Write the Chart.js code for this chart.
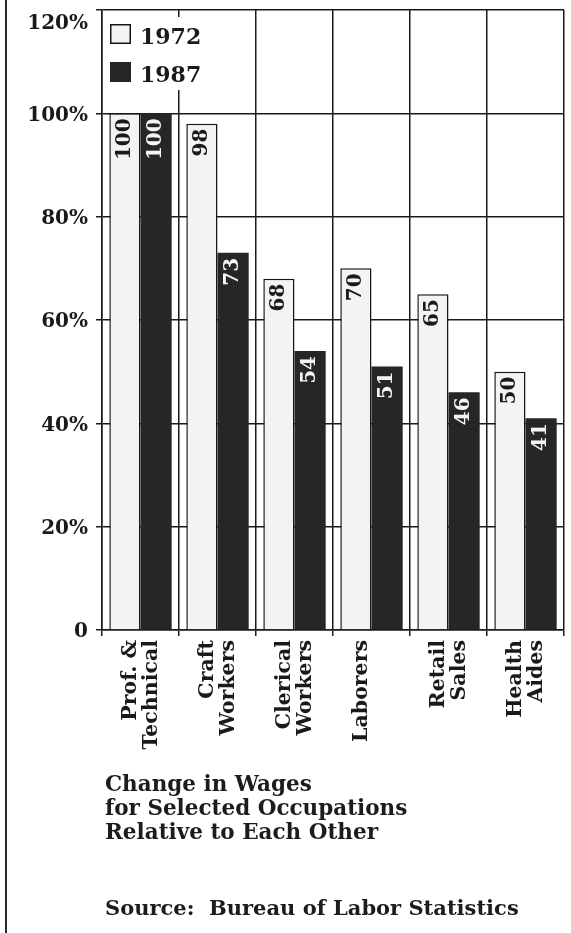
<!DOCTYPE html>
<html>
<head>
<meta charset="utf-8">
<title>Change in Wages for Selected Occupations</title>
<script src="https://cdn.jsdelivr.net/npm/chart.js@4.4.1/dist/chart.umd.min.js"></script>
<style>
  html, body { margin: 0; padding: 0; background: #fff; }
  #page { position: relative; width: 571px; height: 933px; overflow: hidden; background: #fff; }
  #frame { position: absolute; left: 5px; top: 0; width: 2px; height: 933px; background: #2a2a2a; }
  #chartBox { position: absolute; left: 0; top: 0; width: 571px; height: 933px; }
  .caption { position: absolute; left: 105px; font-family: "DejaVu Serif", serif; font-weight: bold; color: #1c1c1c; white-space: nowrap; }
  #title { top: 772px; font-size: 21.5px; line-height: 24px; }
  #source { top: 895px; font-size: 21px; }
</style>
</head>
<body>
<div id="page">
  <div id="chartBox"><canvas id="wagesChart"></canvas></div>
  <div id="frame"></div>
  <div id="title" class="caption">Change in Wages<br>for Selected Occupations<br>Relative to Each Other</div>
  <div id="source" class="caption">Source:&nbsp; Bureau of Labor Statistics</div>
</div>
<script>
// data
const occupations = [['Prof. &', 'Technical'], ['Craft', 'Workers'], ['Clerical', 'Workers'], 'Laborers', ['Retail', 'Sales'], ['Health', 'Aides']];
const wages1972 = [100, 98, 68, 70, 65, 50];
const wages1987 = [100, 73, 54, 51, 46, 41];
const yTickValues = [0, 20, 40, 60, 80, 100, 120];

const serif = '"DejaVu Serif", serif';
const ink = '#1a1a1a';

// inset legend, top left of the plot
const insetLegend = {
    id: 'insetLegend',
    afterDraw(chart) {
        const ctx = chart.ctx;
        const area = chart.chartArea;
        const x0 = area.left + 8;
        const y0 = area.top + 14;
        ctx.save();
        ctx.fillStyle = '#fff';
        ctx.fillRect(area.left + 1, area.top + 7, 102, 73);
        chart.data.datasets.forEach(function(ds, i) {
            const y = y0 + i * 38;
            ctx.fillStyle = ds.backgroundColor;
            ctx.fillRect(x0, y, 21, 20);
            if (ds.borderWidth) {
                ctx.strokeStyle = ds.borderColor;
                ctx.lineWidth = 1.5;
                ctx.strokeRect(x0 + 0.75, y + 0.75, 19.5, 18.5);
            }
            ctx.fillStyle = ink;
            ctx.font = 'bold 22px ' + serif;
            ctx.textAlign = 'left';
            ctx.textBaseline = 'alphabetic';
            ctx.fillText(ds.label, x0 + 30, y + 20);
        });
        ctx.restore();
    }
};

// rotated value labels at the top of each bar
const valueLabels = {
    id: 'valueLabels',
    afterDatasetsDraw(chart) {
        const ctx = chart.ctx;
        ctx.save();
        ctx.font = 'bold 20px ' + serif;
        ctx.textAlign = 'right';
        ctx.textBaseline = 'middle';
        chart.data.datasets.forEach(function(ds, i) {
            chart.getDatasetMeta(i).data.forEach(function(bar, j) {
                ctx.save();
                ctx.translate(bar.x, bar.y + 5);
                ctx.rotate(-Math.PI / 2);
                ctx.fillStyle = ds.labelColor;
                ctx.fillText(String(ds.data[j]), 0, 0);
                ctx.restore();
            });
        });
        ctx.restore();
    }
};

const ctx = document.getElementById('wagesChart').getContext('2d');

new Chart(ctx, {
    type: 'bar',
    data: {
        labels: occupations,
        datasets: [{
            label: '1972',
            data: wages1972,
            backgroundColor: '#f3f3f3',
            borderColor: '#161616',
            borderWidth: 1.5,
            labelColor: ink
        }, {
            label: '1987',
            data: wages1987,
            backgroundColor: '#262626',
            borderColor: '#262626',
            borderWidth: 0,
            labelColor: '#f4f4f4'
        }]
    },
    options: {
        responsive: true,
        maintainAspectRatio: false,
        animation: false,
        devicePixelRatio: 1,
        layout: { padding: { left: 0, right: 7, top: 0, bottom: 0 } },
        datasets: {
            bar: { categoryPercentage: 0.81, barPercentage: 1.0 }
        },
        plugins: {
            legend: { display: false },
            tooltip: { enabled: false }
        },
        scales: {
            x: {
                grid: { offset: true, color: ink, lineWidth: 1.5, tickLength: 6 },
                border: { color: ink, width: 1.5 },
                ticks: {
                    autoSkip: false,
                    maxRotation: 90,
                    minRotation: 90,
                    padding: 4,
                    labelOffset: -10,
                    color: ink,
                    font: { family: serif, size: 20.5, weight: 'bold', lineHeight: 1.05 }
                },
                afterFit(scale) {
                    scale.height = 933 - 630;
                    scale.paddingLeft = 0;
                    scale.paddingRight = 0;
                }
            },
            y: {
                min: 0,
                max: 120,
                grid: { color: ink, lineWidth: 1.5, tickLength: 6 },
                border: { color: ink, width: 1.5 },
                afterBuildTicks(scale) {
                    scale.ticks = yTickValues.map(function(v) { return { value: v }; });
                },
                ticks: {
                    padding: 8,
                    labelOffset: 2,
                    color: ink,
                    font: { family: serif, size: 20, weight: 'bold' },
                    callback: function(value) {
                        if (value === 0) return '0';
                        // top label sits just under the frame line
                        if (value === yTickValues[yTickValues.length - 1]) return ['', value + '%'];
                        return value + '%';
                    }
                },
                afterFit(scale) {
                    scale.width = 102;
                    scale.paddingTop = 10;
                    scale.paddingBottom = 0;
                }
            }
        }
    },
    plugins: [valueLabels, insetLegend]
});
</script>
</body>
</html>
